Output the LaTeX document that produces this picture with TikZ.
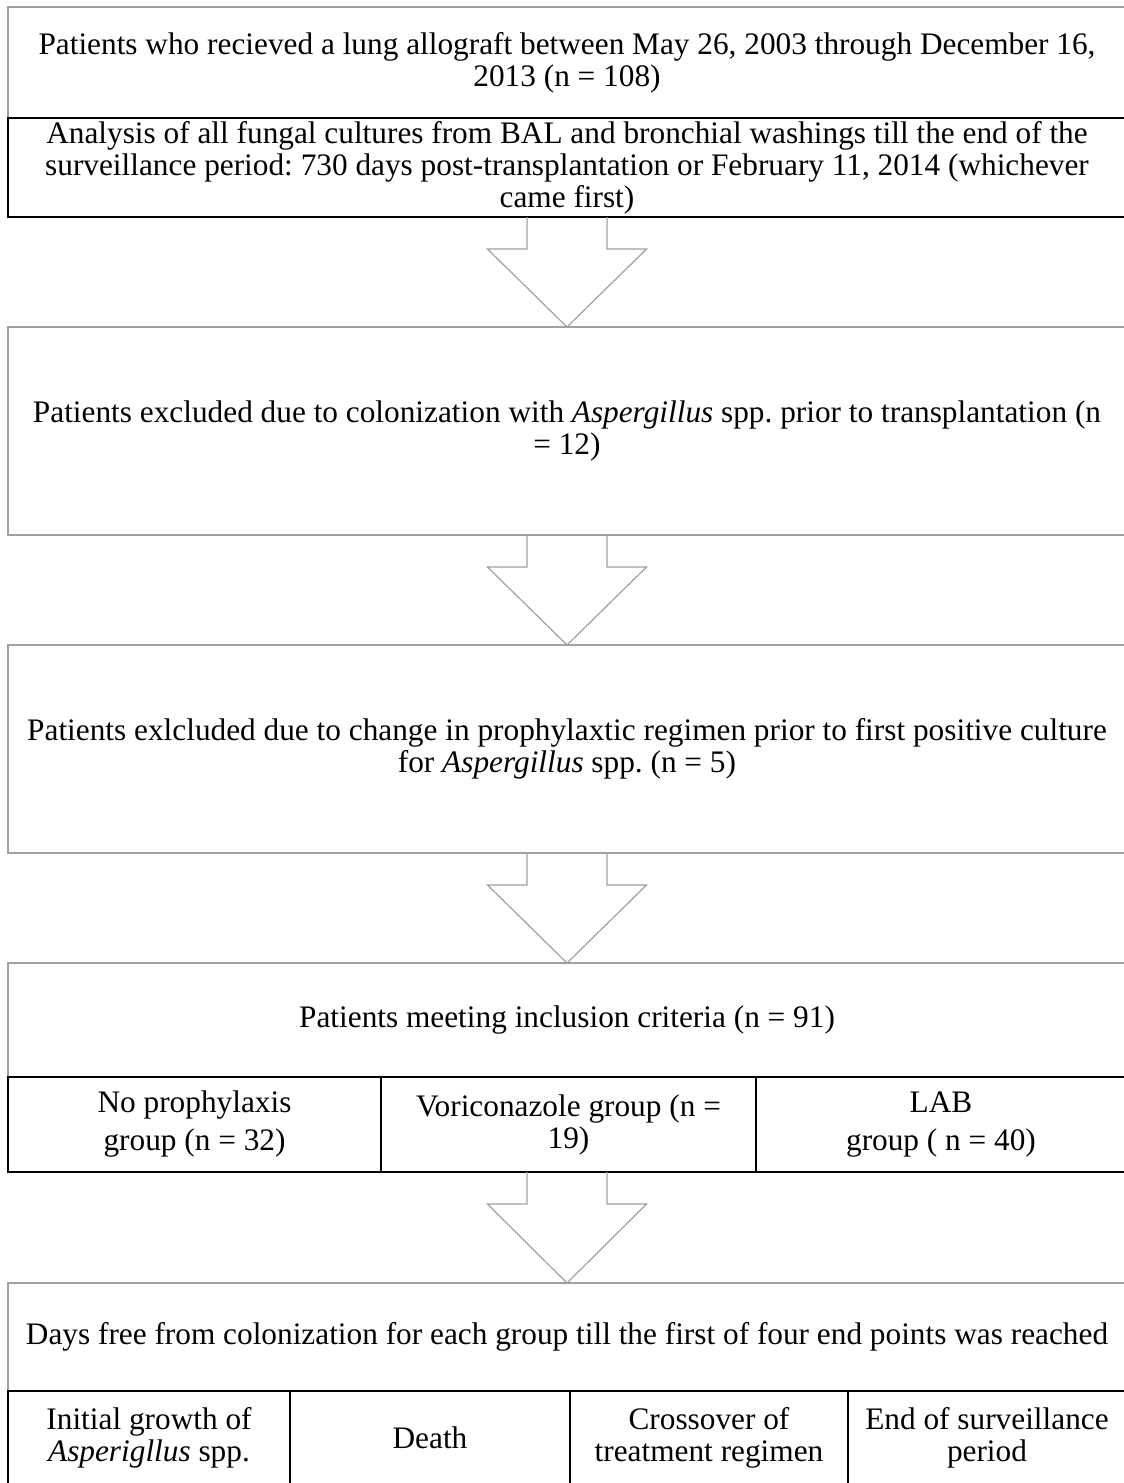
\documentclass[tikz,border=0pt]{standalone}
\usepackage{fontspec}
\setmainfont{Liberation Serif}
\frenchspacing
\usepackage{tikz}
\usetikzlibrary{calc,positioning}
\definecolor{frame_gray}{HTML}{A0A0A0}
\tikzset{
stage_box/.style={rectangle, draw=frame_gray, line width=1.2pt, minimum width=1118pt, inner sep=0pt, outer sep=0pt, align=center, font=\fontsize{31.3}{32}\selectfont},
table_cell/.style={rectangle, draw=black, line width=1.5pt, inner sep=0pt, outer sep=0pt, align=center, font=\fontsize{31.3}{32}\selectfont},
block_arrow/.style={draw=frame_gray, line width=1.2pt, line join=miter}
}
\newcommand{\blockarrow}[2]{%
  \draw[block_arrow] ($(#2.north |- #1.south)+(-40pt,0pt)$) -- ++(0pt,-32pt) -- ++(-39.5pt,0pt)
    -- (#2.north) -- ($(#2.north |- #1.south)+(79.5pt,-32pt)$) -- ++(-39.5pt,0pt) -- ++(0pt,32pt);}

\begin{document}
\begin{tikzpicture}
    \clip (0,0) rectangle (1124pt,-1483pt);
    \node[stage_box, minimum height=111pt] (stage_1) at (567pt,-62.5pt) {Patients who recieved a lung allograft between May 26, 2003 through December 16,\\2013 (n = 108)};
    \node[table_cell, minimum width=1118pt, minimum height=99pt] (stage_1b) [below=0pt of stage_1] {Analysis of all fungal cultures from BAL and bronchial washings till the end of the\\surveillance period: 730 days post-transplantation or February 11, 2014 (whichever\\came first)};
    \node[stage_box, minimum height=208pt] (stage_2) [below=110pt of stage_1b] {Patients excluded due to colonization with \textit{Aspergillus} spp. prior to transplantation (n\\= 12)};
    \node[stage_box, minimum height=208pt] (stage_3) [below=110pt of stage_2] {Patients exlcluded due to change in prophylaxtic regimen prior to first positive culture\\for \textit{Aspergillus} spp. (n = 5)};
    \node[stage_box, minimum height=114pt] (stage_4) [below=110pt of stage_3] {Patients meeting inclusion criteria (n = 91)};
    \node[table_cell, minimum width=373pt, minimum height=95pt, anchor=north west] (group_1) at (stage_4.south west) {No prophylaxis\\[6pt]group (n = 32)};
    \node[table_cell, minimum width=375pt, minimum height=95pt] (group_2) [right=0pt of group_1] {Voriconazole group (n =\\19)};
    \node[table_cell, minimum width=370pt, minimum height=95pt] (group_3) [right=0pt of group_2] {LAB\\[6pt]group ( n = 40)};
    \node[stage_box, minimum height=108pt, anchor=north] (stage_5) at ($(stage_4.south)+(0pt,-206pt)$) {Days free from colonization for each group till the first of four end points was reached};
    \node[table_cell, minimum width=282pt, minimum height=94pt, anchor=north west] (end_1) at (stage_5.south west) {Initial growth of\\\textit{Asperigllus} spp.};
    \node[table_cell, minimum width=280pt, minimum height=94pt] (end_2) [right=0pt of end_1] {Death};
    \node[table_cell, minimum width=278pt, minimum height=94pt] (end_3) [right=0pt of end_2] {Crossover of\\treatment regimen};
    \node[table_cell, minimum width=278pt, minimum height=94pt] (end_4) [right=0pt of end_3] {End of surveillance\\period};
    \blockarrow{stage_1b}{stage_2}
    \blockarrow{stage_2}{stage_3}
    \blockarrow{stage_3}{stage_4}
    \blockarrow{group_2}{stage_5}
\end{tikzpicture}
\end{document}
